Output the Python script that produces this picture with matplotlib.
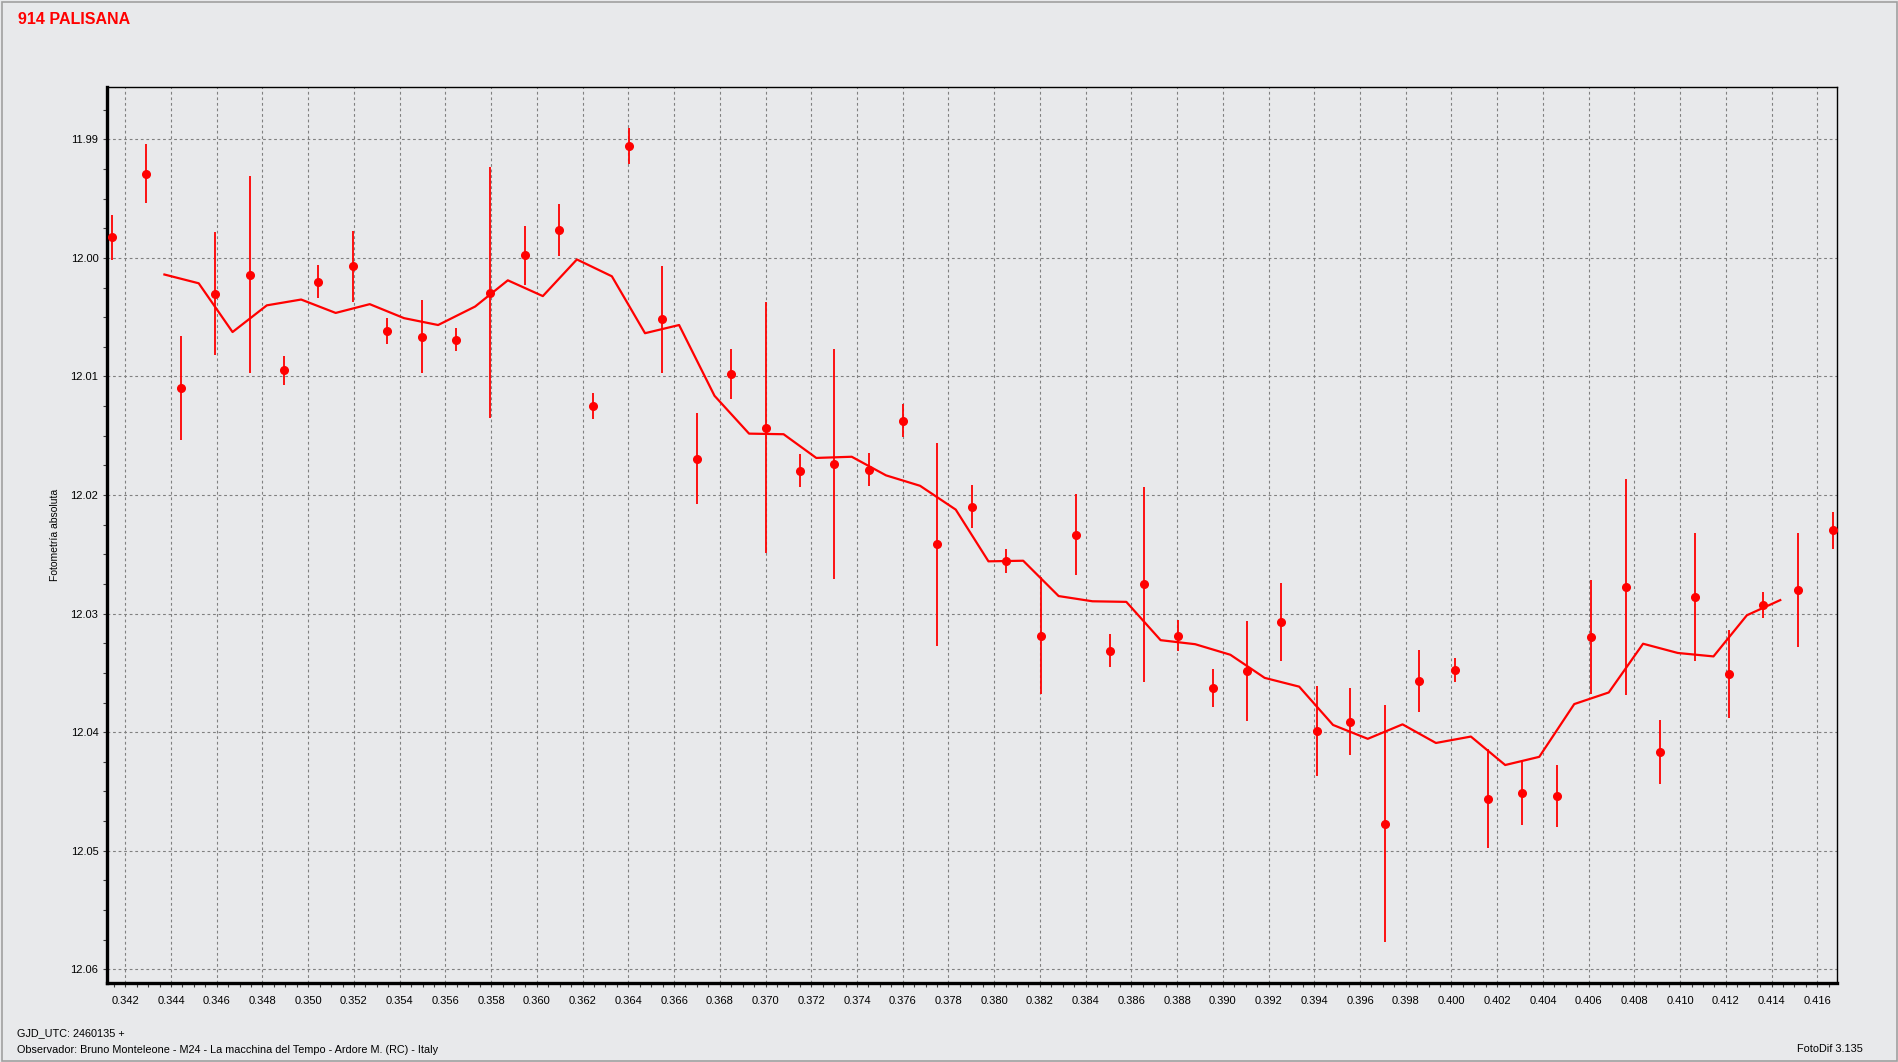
import matplotlib
matplotlib.use("Agg")
import matplotlib.pyplot as plt
from matplotlib import font_manager
from matplotlib.ticker import MultipleLocator, FormatStrFormatter
from matplotlib.patches import Rectangle

# observations (GJD - 2460135), magnitude, error
x_obs = [0.34142, 0.34292, 0.34444, 0.34594, 0.34746, 0.34895, 0.35044, 0.35197, 0.35346, 0.35499,
         0.35647, 0.35797, 0.35949, 0.36098, 0.36247, 0.36401, 0.36549, 0.36702, 0.36851, 0.37001,
         0.37152, 0.37301, 0.37453, 0.37601, 0.37752, 0.37904, 0.38053, 0.38207, 0.38356, 0.38505,
         0.38655, 0.38804, 0.38959, 0.39107, 0.39255, 0.39410, 0.39558, 0.39711, 0.39860, 0.40015,
         0.40161, 0.40308, 0.40461, 0.40612, 0.40764, 0.40914, 0.41066, 0.41216, 0.41364, 0.41514,
         0.41667]
mag = [11.99827, 11.99289, 12.01095, 12.00302, 12.00140, 12.00948, 12.00199, 12.00072, 12.00615, 12.00664,
       12.00689, 12.00292, 11.99979, 11.99764, 12.01247, 11.99054, 12.00517, 12.01692, 12.00982, 12.01433,
       12.01795, 12.01736, 12.01785, 12.01374, 12.02417, 12.02098, 12.02554, 12.03185, 12.02333, 12.03312,
       12.02754, 12.03185, 12.03626, 12.03484, 12.03068, 12.03988, 12.03910, 12.04771, 12.03567, 12.03474,
       12.04560, 12.04516, 12.04536, 12.03195, 12.02774, 12.04164, 12.02857, 12.03508, 12.02926, 12.02798,
       12.02299]
err = [0.0019, 0.0025, 0.0044, 0.0052, 0.0083, 0.0012, 0.0014, 0.0030, 0.0011, 0.0031,
       0.0010, 0.0106, 0.0025, 0.0022, 0.0011, 0.0015, 0.0045, 0.0038, 0.0021, 0.0106,
       0.0014, 0.0097, 0.0014, 0.0014, 0.0086, 0.0018, 0.0010, 0.0049, 0.0034, 0.0014,
       0.0082, 0.0013, 0.0016, 0.0042, 0.0033, 0.0038, 0.0028, 0.0100, 0.0026, 0.0010,
       0.0042, 0.0027, 0.0026, 0.0048, 0.0091, 0.0027, 0.0054, 0.0037, 0.0011, 0.0048,
       0.0016]

# running mean curve as drawn
x_avg = [0.34371, 0.34521, 0.34669, 0.34819, 0.34969, 0.35120, 0.35269, 0.35419, 0.35568, 0.35730,
         0.35873, 0.36026, 0.36175, 0.36328, 0.36473, 0.36622, 0.36777, 0.36928, 0.37079, 0.37222,
         0.37377, 0.37527, 0.37676, 0.37832, 0.37975, 0.38127, 0.38282, 0.38430, 0.38578, 0.38728,
         0.38879, 0.39033, 0.39183, 0.39334, 0.39482, 0.39634, 0.39786, 0.39932, 0.40085, 0.40235,
         0.40384, 0.40537, 0.40688, 0.40838, 0.40990, 0.41146, 0.41292, 0.41438]
mag_avg = [12.00140, 12.00214, 12.00625, 12.00400, 12.00351, 12.00464, 12.00390, 12.00508, 12.00566, 12.00410,
           12.00189, 12.00322, 12.00013, 12.00155, 12.00635, 12.00566, 12.01163, 12.01482, 12.01487, 12.01687,
           12.01677, 12.01834, 12.01922, 12.02123, 12.02559, 12.02554, 12.02852, 12.02896, 12.02901, 12.03224,
           12.03258, 12.03347, 12.03542, 12.03616, 12.03939, 12.04056, 12.03934, 12.04091, 12.04037, 12.04277,
           12.04208, 12.03763, 12.03665, 12.03254, 12.03332, 12.03361, 12.03014, 12.02886]

title = "914 PALISANA"
ylabel = "Fotometría absoluta"
foot1 = "GJD_UTC: 2460135 +"
foot2 = "Observador: Bruno Monteleone - M24 - La macchina del Tempo - Ardore M. (RC) - Italy"
foot3 = "FotoDif 3.135"

names = {f.name for f in font_manager.fontManager.ttflist}
narrow = "Liberation Sans Narrow" if "Liberation Sans Narrow" in names else "Liberation Sans"
plt.rcParams["font.family"] = ["Liberation Sans", "DejaVu Sans"]

bg = "#e8e9eb"
W, H = 1898, 1062
fig = plt.figure(figsize=(W / 100, H / 100), dpi=100, facecolor=bg)
ax = fig.add_axes([106.7 / W, 1 - 983.3 / H, (1837.3 - 106.7) / W, (983.3 - 87.3) / H])
ax.set_facecolor(bg)

ax.errorbar(x_obs, mag, yerr=err, fmt="o", color="#ff0000", ms=5.5, elinewidth=1.3,
            capsize=0, zorder=3)
ax.plot(x_avg, mag_avg, color="#ff0000", lw=1.6, zorder=2)

ax.set_xlim(0.341186, 0.416875)
ax.set_ylim(12.06118, 11.98561)

ax.xaxis.set_major_locator(MultipleLocator(0.002))
ax.xaxis.set_minor_locator(MultipleLocator(0.0005))
ax.yaxis.set_major_locator(MultipleLocator(0.01))
ax.yaxis.set_minor_locator(MultipleLocator(0.0025))
ax.xaxis.set_major_formatter(FormatStrFormatter("%.3f"))
ax.yaxis.set_major_formatter(FormatStrFormatter("%.2f"))

ax.grid(True, which="major", color="#808080", lw=0.8, ls=(0, (2.5, 2.5)))
ax.tick_params(axis="both", which="both", direction="out", length=3, width=0.8, color="#404040")
ax.tick_params(axis="x", which="major", labelsize=8, pad=6)
ax.tick_params(axis="y", which="major", labelsize=8, pad=3)
for lab in ax.get_xticklabels():
    lab.set_family([narrow, "DejaVu Sans"])

for s in ("left", "bottom"):
    ax.spines[s].set_linewidth(2.4)
for s in ("top", "right"):
    ax.spines[s].set_linewidth(1.0)

ax.set_ylabel(ylabel, fontsize=7.5)
ax.yaxis.set_label_coords((60 - 106.7) / (1837.3 - 106.7), 0.5)

fig.text(18 / W, 1 - 19 / H, title, color="#ff0000", fontsize=11.5, fontweight="bold",
         va="center", ha="left")
fig.text(17 / W, 1 - 1033 / H, foot1, fontsize=7.8, va="center", ha="left",
         family=[narrow, "DejaVu Sans"])
fig.text(17 / W, 1 - 1050 / H, foot2, fontsize=7.8, va="center", ha="left",
         family=[narrow, "DejaVu Sans"])
fig.text(1863 / W, 1 - 1049 / H, foot3, fontsize=7.8, va="center", ha="right",
         family=[narrow, "DejaVu Sans"])

fig.patches.append(Rectangle((1.5 / W, 1.5 / H), 1 - 3 / W, 1 - 3 / H, transform=fig.transFigure,
                             fill=False, edgecolor="#a0a0a0", lw=1.2))

fig.savefig("out.png", dpi=100, facecolor=bg)
